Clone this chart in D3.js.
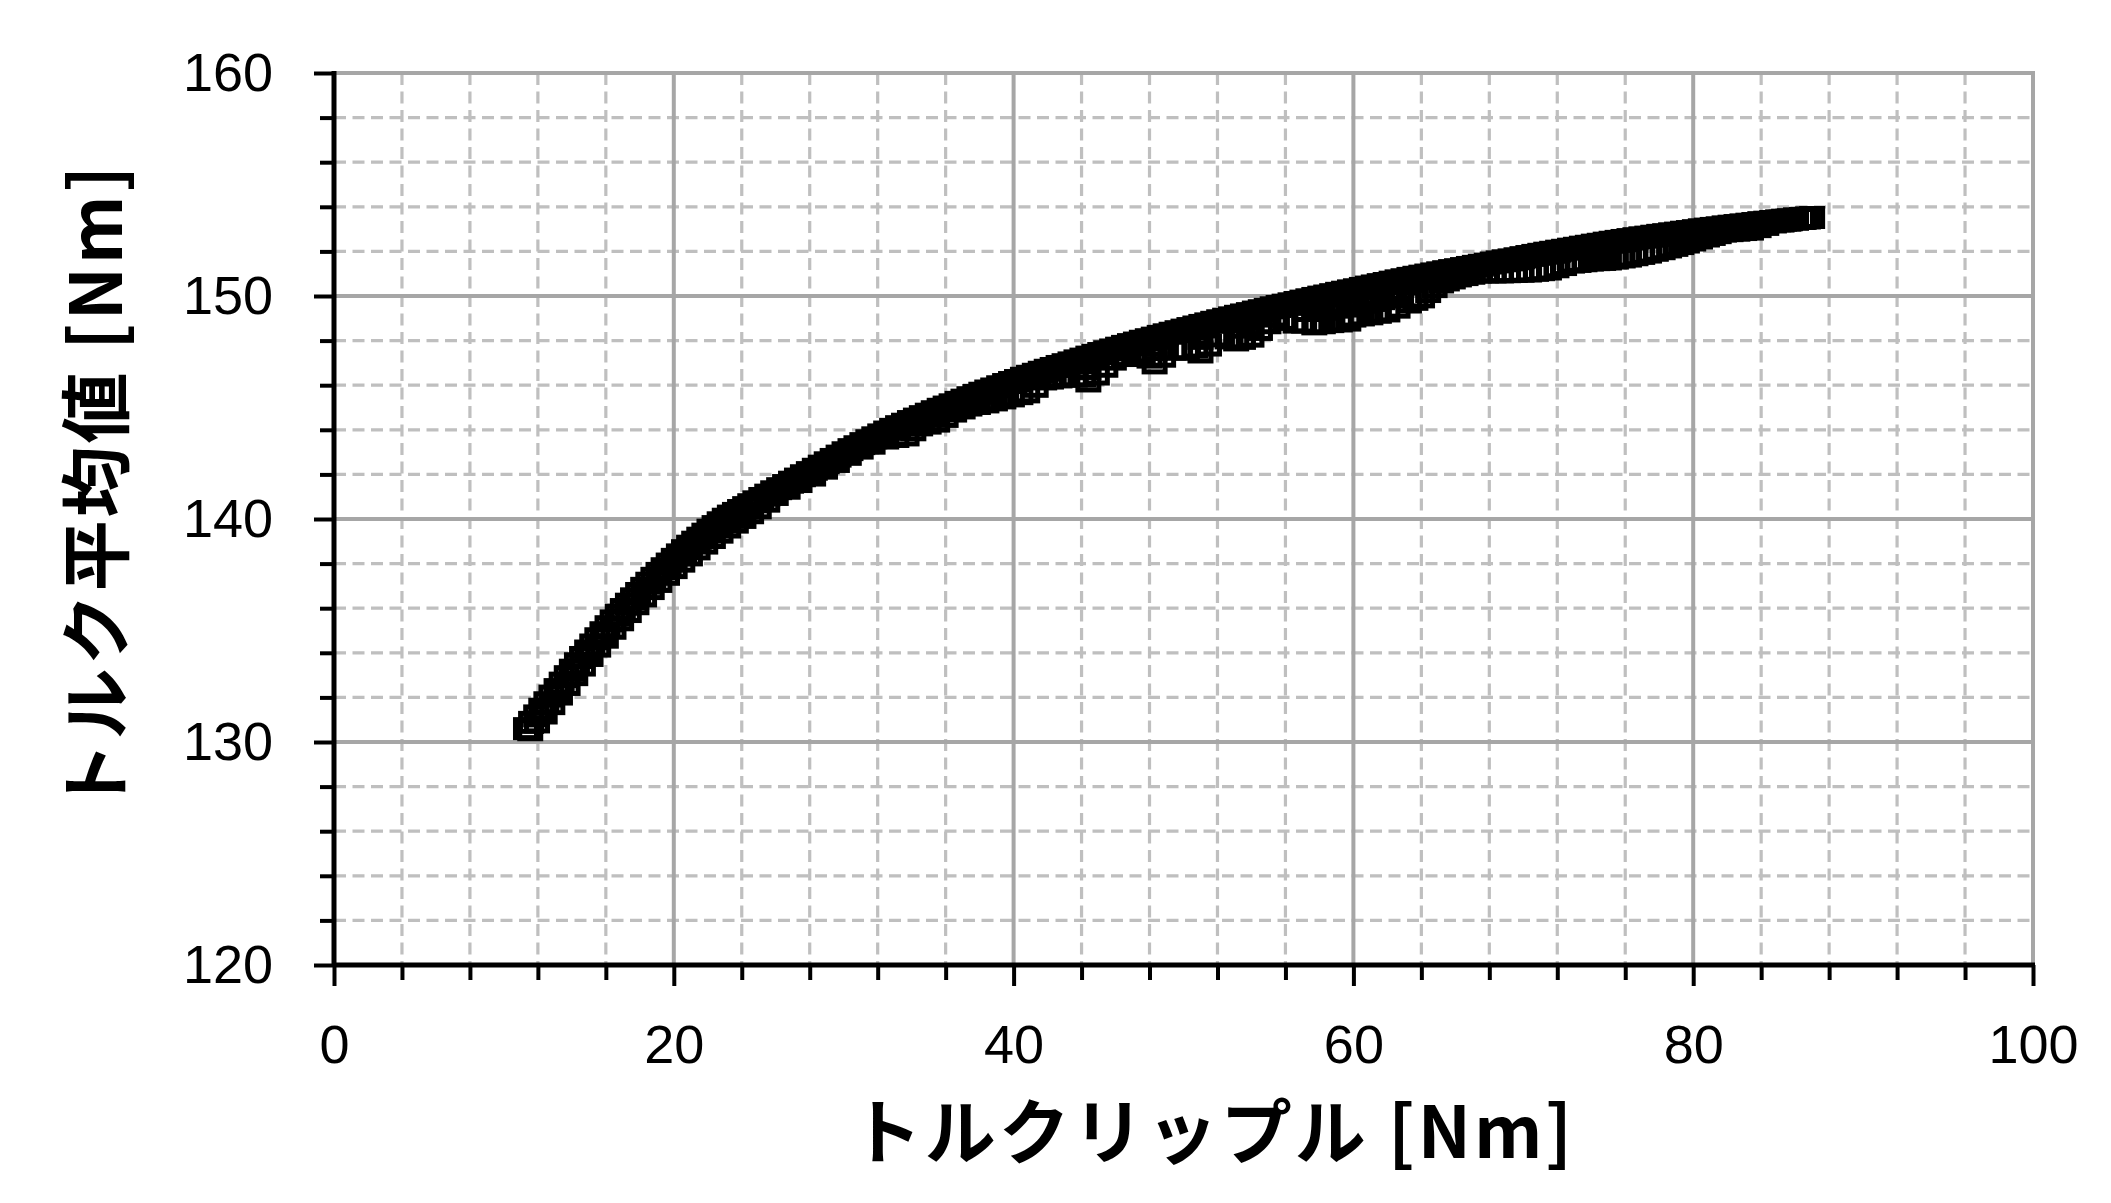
<!DOCTYPE html>
<html>
<head>
<meta charset="utf-8">
<script src="https://cdn.jsdelivr.net/npm/d3@7"></script>
<style>
body{margin:0;background:#fff;}
svg{display:block;}
.axis text{font-family:"Liberation Sans",Arial,sans-serif;font-size:54px;fill:#000;}
.axis-title{font-family:"Noto Sans CJK JP",sans-serif;font-weight:700;font-size:71px;fill:#000;letter-spacing:3px;}
</style>
</head>
<body>
<svg id="chart"></svg>
<script>
const xTitle = 'トルクリップル [Nm]';
const yTitle = 'トルク平均値 [Nm]';
const xMajorTicks = [0,20,40,60,80,100];
const xMinorTicks = [4,8,12,16,24,28,32,36,44,48,52,56,64,68,72,76,84,88,92,96];
const yMajorTicks = [120,130,140,150,160];
const yMinorTicks = [122,124,126,128,132,134,136,138,142,144,146,148,152,154,156,158];

// [ripple, mean torque] - upper edge of the cloud
const frontPts = [
[11.30,130.60],[11.60,130.88],[11.90,131.17],[12.20,131.47],[12.50,131.76],[12.80,132.06],[13.10,132.35],
[13.40,132.64],[13.70,132.93],[14.00,133.22],[14.30,133.51],[14.60,133.79],[14.90,134.08],[15.20,134.35],
[15.50,134.63],[15.80,134.90],[16.10,135.17],[16.40,135.43],[16.70,135.69],[17.00,135.94],[17.30,136.18],
[17.60,136.42],[17.90,136.66],[18.20,136.89],[18.50,137.12],[18.80,137.34],[19.10,137.56],[19.40,137.77],
[19.70,137.98],[20.00,138.19],[20.30,138.39],[20.60,138.58],[20.90,138.78],[21.20,138.96],[21.50,139.14],
[21.80,139.32],[22.10,139.50],[22.40,139.66],[22.70,139.83],[23.00,139.99],[23.30,140.13],[23.60,140.25],
[23.90,140.38],[24.20,140.51],[24.50,140.64],[24.80,140.77],
[25.15,140.92],[25.50,141.07],[25.85,141.22],[26.20,141.36],[26.55,141.50],[26.90,141.65],[27.25,141.79],
[27.60,141.94],[27.95,142.08],[28.30,142.23],[28.65,142.37],[29.00,142.52],[29.35,142.67],[29.70,142.82],
[30.05,142.97],[30.40,143.11],[30.75,143.24],[31.10,143.38],[31.45,143.51],[31.80,143.64],[32.15,143.77],
[32.50,143.90],[32.85,144.02],[33.20,144.14],[33.55,144.25],[33.90,144.37],[34.25,144.48],[34.60,144.59],
[34.95,144.70],[35.30,144.81],[35.65,144.92],[36.00,145.02],[36.35,145.12],[36.70,145.23],[37.05,145.33],
[37.40,145.44],[37.75,145.54],[38.10,145.64],[38.45,145.74],[38.80,145.83],[39.15,145.93],[39.50,146.03],
[39.85,146.12],[40.20,146.21],[40.55,146.31],[40.90,146.40],[41.25,146.49],[41.60,146.58],[41.95,146.67],
[42.30,146.75],[42.65,146.84],[43.00,146.92],[43.35,147.00],[43.70,147.09],[44.05,147.17],[44.40,147.26],
[44.75,147.34],[45.10,147.42],[45.45,147.50],[45.80,147.58],[46.15,147.66],[46.50,147.74],[46.85,147.82],
[47.20,147.89],[47.55,147.97],[47.90,148.04],[48.25,148.11],[48.60,148.19],[48.95,148.26],[49.30,148.33],
[49.65,148.40],[50.00,148.47],[50.35,148.54],[50.70,148.61],[51.05,148.68],[51.40,148.75],[51.75,148.82],
[52.10,148.89],[52.45,148.96],[52.80,149.02],[53.15,149.09],[53.50,149.15],[53.85,149.21],[54.20,149.28],
[54.55,149.34],[54.90,149.40],[55.25,149.47],[55.60,149.53],[55.95,149.59],[56.30,149.65],[56.65,149.71],
[57.00,149.77],[57.35,149.83],[57.70,149.89],[58.05,149.95],[58.40,150.00],[58.75,150.06],[59.10,150.12],
[59.45,150.17],[59.80,150.23],[60.15,150.28],[60.50,150.34],[60.85,150.40],[61.20,150.45],[61.55,150.51],
[61.90,150.56],[62.25,150.62],[62.60,150.68],[62.95,150.73],[63.30,150.79],[63.65,150.84],[64.00,150.89],
[64.35,150.94],[64.70,150.99],[65.05,151.04],[65.40,151.09],[65.75,151.14],[66.10,151.18],[66.45,151.23],
[66.80,151.28],[67.15,151.33],[67.50,151.38],[67.85,151.43],[68.20,151.48],[68.55,151.53],[68.90,151.58],
[69.25,151.62],[69.60,151.67],[69.95,151.72],[70.30,151.77],[70.65,151.82],[71.00,151.87],[71.35,151.92],
[71.70,151.96],[72.05,152.01],[72.40,152.05],[72.75,152.10],[73.10,152.14],[73.45,152.19],[73.80,152.23],
[74.15,152.28],[74.50,152.32],[74.85,152.37],[75.20,152.41],[75.55,152.45],[75.90,152.49],[76.25,152.53],
[76.60,152.57],[76.95,152.61],[77.30,152.64],[77.65,152.68],[78.00,152.72],[78.35,152.75],[78.70,152.79],
[79.05,152.82],[79.40,152.86],[79.75,152.89],[80.10,152.93],[80.45,152.97],[80.80,153.00],[81.15,153.03],
[81.50,153.06],[81.85,153.10],[82.20,153.13],[82.55,153.16],[82.90,153.19],[83.25,153.22],[83.60,153.25],
[83.95,153.29],[84.30,153.31],[84.65,153.34],[85.00,153.37],[85.35,153.40],[85.70,153.42],[86.05,153.45],
[86.40,153.48],[86.75,153.50],[87.00,153.52]
];

// lower edge of the cloud
const lowerPts = [
[11.55,130.55],[11.95,130.90],[12.40,131.30],[12.85,131.72],[13.30,132.15],[13.75,132.58],[14.20,133.02],
[14.65,133.45],[15.10,133.88],[15.55,134.30],[16.00,134.70],[16.45,135.10],[16.90,135.48],[17.35,135.85],
[17.80,136.20],[18.25,136.55],[18.70,136.88],[19.15,137.20],[19.60,137.52],[20.05,137.82],[20.50,138.11],
[20.95,138.39],[21.40,138.66],[21.85,138.92],[22.30,139.17],[22.75,139.41],[23.20,139.64],[23.65,139.86],
[24.10,140.07],[24.55,140.28],[25.00,140.50],[25.50,140.80],
[26.0,141.10],[26.7,141.38],[27.4,141.68],[28.2,141.97],[28.9,142.28],[29.6,142.58],[30.3,142.90],
[31.0,143.18],[31.7,143.40],[32.5,143.63],[33.1,143.70],[33.7,143.77],[34.1,144.00],[34.5,144.22],
[35.0,144.30],[35.5,144.39],[36.0,144.60],[36.5,144.84],[37.0,144.98],[37.4,145.11],[37.9,145.18],
[38.4,145.25],[38.9,145.34],[39.4,145.43],[39.9,145.52],[40.4,145.62],[40.8,145.70],[41.3,145.95],
[41.8,146.28],[42.2,146.32],[42.7,146.37],[43.1,146.41],[43.6,146.41],[44.1,146.41],[44.4,146.19],
[44.9,146.50],[45.4,146.85],[45.9,147.17],[46.5,147.33],[47.1,147.49],[47.6,147.38],[48.0,147.26],
[48.3,147.00],[48.8,147.30],[49.4,147.62],[49.8,147.62],[50.2,147.62],[50.7,147.71],[51.0,147.49],
[51.5,147.80],[52.1,148.21],[52.6,148.12],[53.1,148.03],[53.5,148.10],[54.0,148.20],[54.5,148.50],
[55.0,148.80],[55.5,149.10],[56.0,148.95],[56.6,148.83],[57.1,148.83],[57.7,148.75],[58.2,148.80],
[58.7,148.85],[59.2,148.88],[59.7,148.92],[60.0,149.10],[60.5,149.15],[61.0,149.20],[61.5,149.27],
[62.0,149.33],[62.6,149.50],[63.27,149.73],[63.65,149.85],[64.04,149.96],[64.40,150.20],[64.78,150.42],
[65.16,150.63],[65.50,150.72],[65.85,150.81],[66.21,150.90],[66.60,150.96],[67.00,151.02],[67.39,151.08],
[67.80,151.08],[68.25,151.08],[68.69,151.08],[69.10,151.09],[69.50,151.10],[69.90,151.11],[70.34,151.12],
[70.75,151.15],[71.10,151.18],[71.51,151.21],[71.95,151.31],[72.40,151.41],[72.87,151.52],[73.25,151.55],
[73.60,151.58],[73.98,151.61],[74.35,151.63],[74.70,151.64],[75.04,151.66],[75.45,151.70],[75.85,151.75],
[76.22,151.79],[76.60,151.85],[77.00,151.91],[77.40,151.97],[77.80,152.05],[78.20,152.12],[78.58,152.20],
[78.95,152.27],[79.30,152.35],[79.63,152.42],[80.00,152.51],[80.40,152.60],[80.81,152.69],[81.15,152.76],
[81.50,152.84],[81.81,152.91],[82.20,152.93],[82.60,152.95],[83.00,152.98],[83.40,153.00],[83.85,153.11],
[84.30,153.21],[84.75,153.32],[85.20,153.36],[85.60,153.40],[86.05,153.45],[86.50,153.48]
];

// points between the two edges
const midPts = [
[44.4,146.75],[48.3,147.60],[51.0,148.10],[53.3,148.60],[54.0,148.70],[57.2,149.35],[57.7,149.35],
[58.2,149.40],[58.7,149.45],[59.2,149.50],[59.7,149.55],[60.2,149.65],[60.7,149.72],[61.2,149.80],
[61.7,149.88],[62.2,149.95],[62.7,150.05]
];

const W = 2111, H = 1203;
const plot = {left:334, right:2033, top:73, bottom:965};

const svg = d3.select('#chart').attr('width', W).attr('height', H);
svg.append('rect').attr('width', W).attr('height', H).attr('fill', '#fff');

const x = d3.scaleLinear().domain([0,100]).range([plot.left, plot.right]);
const y = d3.scaleLinear().domain([120,160]).range([plot.bottom, plot.top]);

// gridlines
const grid = svg.append('g');
grid.selectAll('line.vminor').data(xMinorTicks).enter().append('line')
  .attr('x1', d=>x(d)).attr('x2', d=>x(d)).attr('y1', plot.top).attr('y2', plot.bottom)
  .style('stroke','#bfbfbf').style('stroke-width',3.2).style('stroke-dasharray','12,6.5');
grid.selectAll('line.hminor').data(yMinorTicks).enter().append('line')
  .attr('x1', plot.left).attr('x2', plot.right).attr('y1', d=>y(d)).attr('y2', d=>y(d))
  .style('stroke','#bfbfbf').style('stroke-width',3.2).style('stroke-dasharray','12,6.5');
grid.selectAll('line.vmajor').data(xMajorTicks.slice(1)).enter().append('line')
  .attr('x1', d=>x(d)).attr('x2', d=>x(d)).attr('y1', plot.top-2).attr('y2', plot.bottom)
  .style('stroke','#a6a6a6').style('stroke-width',4);
grid.selectAll('line.hmajor').data(yMajorTicks.slice(1)).enter().append('line')
  .attr('x1', plot.left).attr('x2', plot.right+2).attr('y1', d=>y(d)).attr('y2', d=>y(d))
  .style('stroke','#a6a6a6').style('stroke-width',4);

// axes
function styleAxis(g){
  g.selectAll('.domain').remove();
  g.selectAll('line').style('stroke','#000').style('stroke-width',4);
}
svg.append('g').attr('transform',`translate(0,${plot.bottom})`)
  .call(d3.axisBottom(x).tickValues(xMinorTicks).tickSize(15).tickFormat(''))
  .call(styleAxis);
svg.append('g').attr('class','axis').attr('transform',`translate(0,${plot.bottom})`)
  .call(d3.axisBottom(x).tickValues(xMajorTicks).tickSize(21).tickPadding(39).tickFormat(d3.format('d')))
  .call(styleAxis);
svg.append('g').attr('transform',`translate(${plot.left},0)`)
  .call(d3.axisLeft(y).tickValues(yMinorTicks).tickSize(14).tickFormat(''))
  .call(styleAxis);
svg.append('g').attr('class','axis').attr('transform',`translate(${plot.left},0)`)
  .call(d3.axisLeft(y).tickValues(yMajorTicks).tickSize(20).tickPadding(41).tickFormat(d3.format('d')))
  .call(styleAxis);
svg.selectAll('.axis .tick text').attr('font-family',null).attr('font-size',null);

svg.append('line').attr('x1',plot.left).attr('x2',plot.right+2).attr('y1',plot.bottom).attr('y2',plot.bottom)
  .style('stroke','#000').style('stroke-width',5);
svg.append('line').attr('x1',plot.left).attr('x2',plot.left).attr('y1',plot.top-2).attr('y2',plot.bottom+2)
  .style('stroke','#000').style('stroke-width',5);

// markers
const mw = 21, mh = 18;
const pts = svg.append('g');
[frontPts, lowerPts, midPts].forEach(series=>{
  pts.selectAll(null).data(series).enter().append('rect')
    .attr('x', d=>x(d[0])-mw/2).attr('y', d=>y(d[1])-mh/2)
    .attr('width', mw).attr('height', mh)
    .attr('fill','none').attr('stroke','#000').attr('stroke-width',5);
});

// titles
svg.append('text').attr('class','axis-title')
  .attr('x',1213).attr('y',1158).attr('text-anchor','middle').text(xTitle);
svg.append('text').attr('class','axis-title')
  .attr('transform','translate(122,488) rotate(-90)').attr('text-anchor','middle').text(yTitle);
</script>
</body>
</html>
